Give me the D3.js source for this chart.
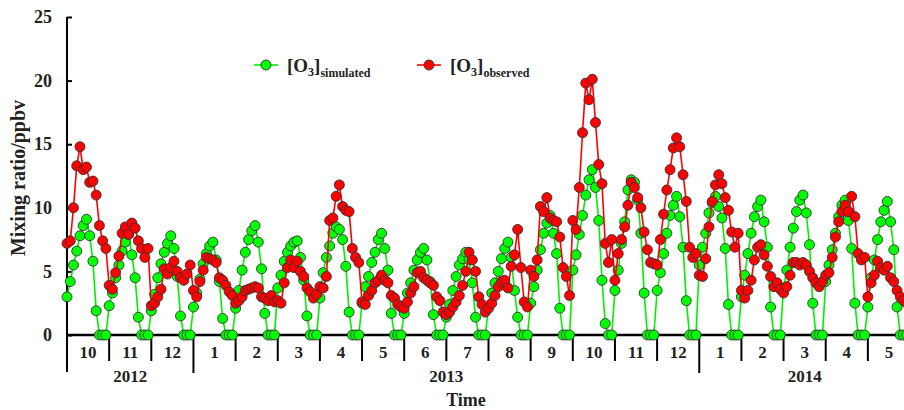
<!DOCTYPE html>
<html lang="en">

<head>
  <meta charset="UTF-8">
  <title>O3 mixing ratio</title>
  <style>
    body { margin: 0; background: #fff; }
    text { font-family: "Liberation Serif", "Times New Roman", serif; font-weight: bold; fill: #222; }
  </style>
</head>

<body>
  <svg id="svg" width="904" height="410"></svg>

  <script src="https://d3js.org/d3.v7.min.js"></script>
  <script>
    // monthly diurnal cycles, 13 points per month, Oct 2012 .. May 2014
    const monthLabels = ['10', '11', '12', '1', '2', '3', '4', '5', '6', '7', '8', '9', '10', '11', '12', '1', '2', '3', '4', '5']
    const years = [
      { label: '2012', from: 0, to: 3 },
      { label: '2013', from: 3, to: 15 },
      { label: '2014', from: 15, to: 20 }
    ]
    const yTicks = [0, 5, 10, 15, 20, 25]

    const simulated = [
      [3.0, 4.2, 5.5, 6.6, 7.8, 8.6, 9.1, 7.8, 5.8, 1.9, 0, 0, 0],
      [2.3, 3.3, 4.5, 5.5, 6.6, 7.3, 7.9, 6.3, 4.5, 1.4, 0, 0, 0],
      [1.9, 3.2, 4.5, 5.6, 6.5, 7.2, 7.8, 6.8, 4.6, 1.5, 0, 0, 0],
      [2.2, 3.3, 4.4, 5.6, 6.4, 7.0, 7.3, 5.9, 4.2, 1.3, 0, 0, 0],
      [2.1, 3.5, 5.1, 6.5, 7.5, 8.2, 8.6, 7.3, 5.2, 1.7, 0, 0, 0],
      [3.7, 4.7, 5.8, 6.5, 7.0, 7.3, 7.4, 6.1, 4.3, 1.5, 0, 0, 0],
      [2.9, 4.9, 6.1, 7.0, 8.0, 8.5, 8.3, 7.5, 5.4, 1.8, 0, 0, 0],
      [2.5, 3.8, 4.6, 5.7, 6.5, 7.5, 8.0, 6.8, 5.1, 1.7, 0, 0, 0],
      [1.7, 3.3, 4.1, 5.1, 5.9, 6.5, 6.8, 5.9, 4.2, 1.6, 0, 0, 0],
      [1.4, 2.4, 3.5, 4.6, 5.5, 6.0, 6.5, 5.9, 4.1, 1.4, 0, 0, 0],
      [2.2, 3.3, 4.1, 5.0, 6.0, 6.8, 7.3, 6.1, 3.5, 1.4, 0, 0, 0],
      [2.5, 3.8, 5.1, 6.7, 8.0, 8.8, 9.4, 8.0, 6.4, 2.1, 0, 0, 0],
      [5.1, 6.3, 7.9, 9.4, 11.0, 12.2, 13.0, 11.6, 9.0, 4.3, 0.9, 0, 0],
      [3.5, 5.1, 7.2, 8.9, 11.4, 12.2, 12.0, 10.6, 8.0, 3.3, 0, 0, 0],
      [3.5, 4.9, 6.4, 8.0, 9.4, 10.2, 10.9, 9.3, 6.9, 2.7, 0, 0, 0],
      [5.5, 6.9, 8.0, 9.6, 10.4, 10.9, 10.1, 9.2, 6.8, 2.4, 0, 0, 0],
      [3.0, 4.7, 6.4, 8.0, 9.3, 10.1, 10.6, 8.9, 6.9, 2.2, 0, 0, 0],
      [3.7, 5.1, 6.9, 8.4, 9.7, 10.6, 11.0, 9.6, 7.1, 2.5, 0, 0, 0],
      [4.2, 5.5, 6.7, 8.0, 9.3, 10.2, 10.6, 9.0, 6.8, 2.5, 0, 0, 0],
      [2.2, 4.5, 5.9, 7.5, 8.9, 9.8, 10.5, 8.9, 6.7, 2.2, 0, 0, 0]
    ]

    const observed = [
      [7.2, 7.4, 10.0, 13.3, 14.8, 13.0, 13.2, 12.0, 12.1, 11.0, 8.6, 7.4, 6.8],
      [3.9, 3.6, 4.9, 6.2, 8.0, 8.5, 7.9, 8.8, 8.4, 7.4, 6.8, 6.1, 6.8],
      [2.3, 2.5, 3.0, 3.6, 5.2, 4.8, 5.3, 5.8, 5.0, 4.5, 4.3, 4.8, 5.5],
      [3.5, 3.0, 4.2, 5.1, 6.1, 6.0, 5.9, 5.7, 4.5, 4.3, 3.9, 3.4, 3.1],
      [2.5, 2.7, 3.0, 3.5, 3.6, 3.7, 3.8, 3.7, 3.0, 2.9, 2.7, 3.1, 2.6],
      [2.7, 2.5, 4.1, 5.3, 5.9, 5.3, 5.8, 5.0, 4.6, 3.7, 3.4, 2.9, 3.2],
      [3.8, 3.7, 4.6, 9.0, 9.2, 10.9, 11.8, 10.1, 9.8, 9.7, 6.8, 6.1, 5.7],
      [2.6, 2.4, 3.1, 3.5, 4.1, 4.3, 4.7, 4.3, 4.1, 3.1, 2.9, 2.4, 2.2],
      [2.1, 2.6, 3.3, 3.8, 4.9, 5.0, 4.5, 4.3, 4.1, 3.9, 3.0, 2.7, 1.8],
      [1.6, 1.8, 2.2, 2.6, 3.1, 3.9, 5.0, 6.5, 5.9, 5.0, 3.0, 2.4, 1.8],
      [2.1, 2.5, 3.1, 3.8, 4.2, 4.3, 3.7, 5.4, 6.3, 8.3, 5.3, 2.6, 2.2],
      [5.1, 4.6, 5.9, 10.1, 9.7, 10.8, 9.2, 9.0, 8.9, 7.7, 5.3, 4.6, 3.1],
      [9.0, 8.3, 11.6, 15.9, 19.8, 18.5, 20.1, 16.7, 13.4, 11.9, 7.2, 5.7, 7.5],
      [4.3, 6.4, 7.5, 8.5, 10.2, 12.0, 11.6, 10.8, 10.0, 8.1, 6.7, 5.7, 5.6],
      [5.5, 7.5, 9.5, 11.4, 13.0, 14.7, 15.5, 14.8, 12.6, 10.5, 6.9, 6.1, 6.4],
      [4.7, 4.6, 6.0, 8.5, 10.5, 11.8, 12.6, 11.9, 10.8, 9.8, 8.1, 6.9, 8.0],
      [3.5, 2.9, 3.5, 4.3, 5.9, 6.9, 7.1, 6.3, 5.4, 4.6, 3.8, 4.1, 3.6],
      [3.3, 3.8, 4.7, 5.7, 5.7, 5.5, 5.7, 5.5, 5.0, 4.5, 4.1, 3.8, 4.2],
      [4.7, 4.9, 6.1, 7.7, 8.9, 9.7, 10.2, 9.7, 10.9, 9.3, 6.4, 5.9, 6.1],
      [3.0, 4.1, 4.7, 5.8, 5.3, 5.1, 5.4, 4.5, 4.2, 3.5, 3.0, 2.7, 2.5]
    ]

    const perMonth = 13
    // flatten to [monthPosition, value]
    const flatten = arr => arr.flatMap((m, mi) => m.map((v, i) => [mi + i / perMonth, v]))
    const simPts = flatten(simulated)
    const obsPts = flatten(observed)

    const svg = d3.select("#svg")

    const xScale = d3.scaleLinear()
      .domain([0, monthLabels.length])
      .range([67, 910])

    const yScale = d3.scaleLinear()
      .domain([0, 25])
      .range([335, 17])

    // y axis
    svg.append("line")
      .attr("x1", 67).attr("x2", 67)
      .attr("y1", yScale(25)).attr("y2", 372)
      .attr("stroke", "#000").attr("stroke-width", 2)

    const yAxis = d3.axisLeft(yScale).tickValues(yTicks).tickSizeInner(-5).tickSizeOuter(0).tickPadding(15)
    const yg = svg.append("g").attr("transform", "translate(67,0)").call(yAxis)
    yg.select(".domain").remove()
    yg.selectAll(".tick line").attr("stroke", "#000").attr("stroke-width", 2)
    yg.selectAll(".tick text")
      .style("font-family", "Liberation Serif").style("font-weight", "bold").style("font-size", "18px").attr("fill", "#222")

    // x axis baseline
    svg.append("line")
      .attr("x1", 67).attr("x2", 904)
      .attr("y1", yScale(0)).attr("y2", yScale(0))
      .attr("stroke", "#000").attr("stroke-width", 2.5)

    // month separators, longer at year boundaries
    const bounds = d3.range(1, monthLabels.length)
    svg.selectAll(".sep")
      .data(bounds)
      .enter()
      .append("line")
      .attr("x1", d => xScale(d)).attr("x2", d => xScale(d))
      .attr("y1", yScale(0))
      .attr("y2", d => years.some(y => y.from === d) ? 373 : 361)
      .attr("stroke", "#000").attr("stroke-width", 2)

    svg.selectAll(".mlab")
      .data(monthLabels)
      .enter()
      .append("text")
      .text(d => d)
      .attr("x", (d, i) => xScale(i + 0.5))
      .attr("y", 358)
      .attr("text-anchor", "middle")
      .style("font-size", "17px")

    svg.selectAll(".ylab")
      .data(years)
      .enter()
      .append("text")
      .text(d => d.label)
      .attr("x", d => xScale((d.from + d.to) / 2))
      .attr("y", 382)
      .attr("text-anchor", "middle")
      .style("font-size", "17px")

    svg.append("text")
      .text("Time")
      .attr("x", 466)
      .attr("y", 406)
      .attr("text-anchor", "middle")
      .style("font-size", "18px")

    svg.append("text")
      .text("Mixing ratio/ppbv")
      .attr("transform", "translate(25,178) rotate(-90)")
      .attr("text-anchor", "middle")
      .style("font-size", "20px")

    const line = d3.line()
      .x(d => xScale(d[0]))
      .y(d => yScale(d[1]))

    const series = [
      { name: "simulated", pts: simPts, color: "#00f000", fill: "#00ff00" },
      { name: "observed", pts: obsPts, color: "#ff0000", fill: "#ff0000" }
    ]

    series.forEach(s => {
      svg.append("path")
        .attr("d", line(s.pts))
        .attr("fill", "none")
        .attr("stroke", s.color)
        .attr("stroke-width", 1.6)

      svg.append("g")
        .selectAll("circle")
        .data(s.pts)
        .enter()
        .append("circle")
        .attr("cx", d => xScale(d[0]))
        .attr("cy", d => yScale(d[1]))
        .attr("r", 5)
        .attr("fill", s.fill)
        .attr("stroke", "#333")
        .attr("stroke-width", 0.9)
    })

    // legend
    const legendX = [254, 417]
    series.forEach((s, i) => {
      const g = svg.append("g").attr("transform", `translate(${legendX[i]},65)`)
      g.append("line")
        .attr("x1", 0).attr("x2", 24)
        .attr("stroke", s.color).attr("stroke-width", 1.6)
      g.append("circle")
        .attr("cx", 12).attr("r", 5)
        .attr("fill", s.fill).attr("stroke", "#333").attr("stroke-width", 0.9)
      const t = g.append("text").attr("x", 33).attr("y", 7).style("font-size", "19px")
      t.append("tspan").text("[O")
      t.append("tspan").text("3").style("font-size", "12px").attr("dy", 4)
      t.append("tspan").text("]").attr("dy", -4)
      t.append("tspan").text(s.name).style("font-size", "12px").attr("dy", 5)
    })
  </script>
</body>

</html>
